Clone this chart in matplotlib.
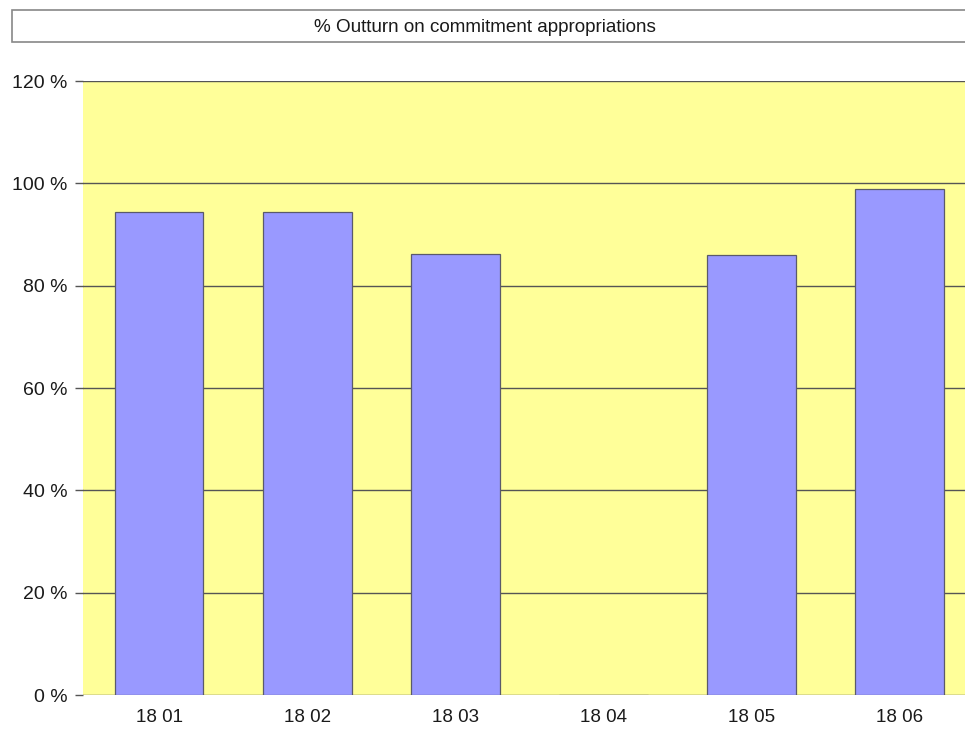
import matplotlib
matplotlib.use("Agg")
import matplotlib.pyplot as plt
from matplotlib.patches import Rectangle
from matplotlib.ticker import FuncFormatter

plt.rcParams['font.family'] = ['Liberation Sans', 'DejaVu Sans']

categories = ["18 01", "18 02", "18 03", "18 04", "18 05", "18 06"]
outturn_pct = [94.4, 94.4, 86.2, 0.0, 86.0, 98.9]
y_ticks = [0, 20, 40, 60, 80, 100, 120]
title = "% Outturn on commitment appropriations"

W, H = 965, 733
fig = plt.figure(figsize=(W / 100, H / 100), dpi=100)
fig.patch.set_facecolor("white")

# plot area: left 83px, top 81px, bottom 695px, runs off the right edge
left, right, top, bottom = 83, 965, 81, 695
ax = fig.add_axes([left / W, 1 - bottom / H, (right - left) / W, (bottom - top) / H])
ax.set_facecolor("#FFFF99")

x = list(range(len(categories)))
ax.bar(x, outturn_pct, width=0.6, color="#9999FF", edgecolor="#5a5a6a",
       linewidth=0.9, zorder=3)

ax.set_xlim(-0.513, 5.44)
ax.set_ylim(0, 120)
ax.set_yticks(y_ticks)
ax.yaxis.set_major_formatter(FuncFormatter(lambda v, p: f"{int(v)} %"))
ax.set_xticks(x)
ax.set_xticklabels(categories)
ax.tick_params(axis="y", length=6, width=1, color="#555555", labelsize=14, pad=5)
ax.tick_params(axis="x", length=0, labelsize=13.5, pad=10)
for lbl in ax.get_xticklabels() + ax.get_yticklabels():
    lbl.set_color("#1a1a1a")

ax.grid(axis="y", color="#555555", linewidth=1, zorder=1)
ax.set_axisbelow(True)
for s in ax.spines.values():
    s.set_visible(False)

# framed title box across the top
fig.patches.append(Rectangle((12 / W, 1 - 42 / H), (W + 10 - 12) / W, 32 / H,
                             transform=fig.transFigure, facecolor="white",
                             edgecolor="#888888", linewidth=1.2))
fig.text(485 / W, 1 - 27 / H, title, ha="center", va="center",
         fontsize=13.6, color="#1a1a1a")

fig.savefig("out.png", dpi=100, facecolor="white")
